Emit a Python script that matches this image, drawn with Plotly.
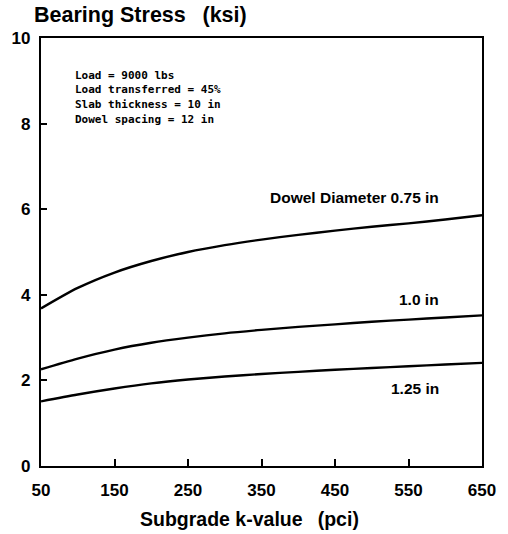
import plotly.graph_objects as go

# Subgrade modulus of reaction (pci)
k_values = [50, 100, 150, 200, 250, 300, 350, 400, 450, 500, 550, 600, 650]

# Bearing stress (ksi) for each dowel diameter
stress_075 = [3.68, 4.16, 4.52, 4.79, 5.00, 5.16, 5.29, 5.40, 5.50, 5.59, 5.67, 5.76, 5.86]
stress_100 = [2.26, 2.51, 2.72, 2.88, 3.00, 3.10, 3.18, 3.25, 3.31, 3.37, 3.42, 3.47, 3.52]
stress_125 = [1.51, 1.67, 1.81, 1.93, 2.02, 2.09, 2.15, 2.20, 2.25, 2.29, 2.33, 2.37, 2.41]

curve_labels = ["Dowel Diameter 0.75 in", "1.0 in", "1.25 in"]
label_y = [6.28, 3.88, 1.82]

x_ticks = [50, 150, 250, 350, 450, 550, 650]
y_ticks = [0, 2, 4, 6, 8, 10]

conditions = [
    "Load = 9000 lbs",
    "Load transferred = 45%",
    "Slab thickness = 10 in",
    "Dowel spacing = 12 in",
]

BOLD = "Liberation Sans"

fig = go.Figure()
for ys in (stress_075, stress_100, stress_125):
    fig.add_trace(go.Scatter(
        x=k_values, y=ys, mode="lines",
        line=dict(color="black", width=2.4, shape="spline", smoothing=0.8),
        showlegend=False, hoverinfo="skip",
    ))

# Curve labels, right-aligned near the right edge
for text, yv in zip(curve_labels, label_y):
    fig.add_annotation(
        x=594, y=yv, xref="x", yref="y", text=f"<b>{text}</b>",
        showarrow=False, xanchor="right", yanchor="middle",
        font=dict(family=BOLD, size=15.5, color="black"),
    )

# Test conditions block
for i, line in enumerate(conditions):
    fig.add_annotation(
        x=71, y=75 + i * 14.8, xref="paper", yref="paper", text=f"<b>{line}</b>",
        showarrow=False, xanchor="left", yanchor="middle",
        font=dict(family="DejaVu Sans Mono", size=11, color="black"),
    )

# Axis titles
fig.add_annotation(
    x=30, y=1, xref="paper", yref="paper", text="<b>Bearing Stress\u2002 (ksi)</b>",
    showarrow=False, xanchor="left", yanchor="top",
    font=dict(family=BOLD, size=21.5, color="black"),
)
fig.add_annotation(
    x=250, y=519, xref="paper", yref="paper", text="<b>Subgrade k-value\u2002 (pci)</b>",
    showarrow=False, xanchor="center", yanchor="middle",
    font=dict(family=BOLD, size=19.5, color="black"),
)

W, H = 508, 534
L, R, T, B = 39, 23, 38, 68
# Annotations above use pixel positions; convert them to paper fractions
for ann in fig.layout.annotations:
    if ann.xref == "paper":
        ann.x = (ann.x - L) / (W - L - R)
        ann.y = 1 - (ann.y - T) / (H - T - B)

tick_font = dict(family=BOLD, size=17, color="black", weight="bold")

fig.update_layout(
    width=W, height=H,
    margin=dict(l=L, r=R, t=T, b=B),
    paper_bgcolor="white", plot_bgcolor="white",
    xaxis=dict(
        range=[50, 650], tickvals=x_ticks, ticktext=[str(v) for v in x_ticks],
        ticks="inside", ticklen=7, tickwidth=2, tickcolor="black",
        showline=True, linecolor="black", linewidth=2.2, mirror=True,
        showgrid=False, zeroline=False, ticklabelstandoff=7,
        tickfont=tick_font,
    ),
    yaxis=dict(
        range=[0, 10], tickvals=y_ticks, ticktext=[str(v) for v in y_ticks],
        ticks="inside", ticklen=6, tickwidth=2, tickcolor="black",
        showline=True, linecolor="black", linewidth=2.2, mirror=True,
        showgrid=False, zeroline=False, ticklabelstandoff=5,
        tickfont=tick_font,
    ),
)

fig.write_html("out.html")
